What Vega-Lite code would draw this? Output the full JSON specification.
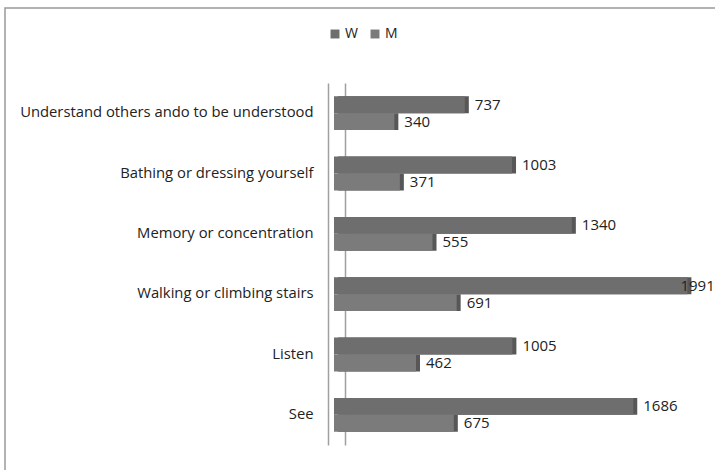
{
  "$schema": "https://vega.github.io/schema/vega-lite/v6.json",
  "width": 711,
  "height": 463,
  "autosize": {"type": "none"},
  "padding": {"left": 5, "top": 8, "right": 0, "bottom": 0},
  "background": "white",
  "config": {
    "view": {"stroke": "#999999", "strokeWidth": 1.5},
    "font": "Open Sans"
  },
  "data": {
    "values": [
      {"cat": "Understand others ando to be understood", "series": "W", "value": 737},
      {"cat": "Understand others ando to be understood", "series": "M", "value": 340},
      {"cat": "Bathing or dressing yourself", "series": "W", "value": 1003},
      {"cat": "Bathing or dressing yourself", "series": "M", "value": 371},
      {"cat": "Memory or concentration", "series": "W", "value": 1340},
      {"cat": "Memory or concentration", "series": "M", "value": 555},
      {"cat": "Walking or climbing stairs", "series": "W", "value": 1991},
      {"cat": "Walking or climbing stairs", "series": "M", "value": 691},
      {"cat": "Listen", "series": "W", "value": 1005},
      {"cat": "Listen", "series": "M", "value": 462},
      {"cat": "See", "series": "W", "value": 1686},
      {"cat": "See", "series": "M", "value": 675}
    ]
  },
  "encoding": {
    "y": {
      "field": "cat",
      "type": "nominal",
      "sort": null,
      "axis": null,
      "scale": {"range": [75, 437], "paddingInner": 0.44, "paddingOuter": 0.22}
    },
    "yOffset": {
      "field": "series",
      "type": "nominal",
      "sort": ["W", "M"],
      "scale": {"paddingInner": 0, "paddingOuter": 0}
    },
    "x": {
      "field": "value",
      "type": "quantitative",
      "scale": {"domain": [0, 2000], "range": [329, 684], "nice": false, "zero": true},
      "axis": null
    }
  },
  "layer": [
    {
      "mark": {"type": "bar", "color": "#575757", "xOffset": 4, "x2Offset": 4, "yOffset": -4, "y2Offset": -4},
      "encoding": {
        "y": {
          "field": "cat",
          "type": "nominal",
          "sort": null,
          "axis": {
            "orient": "left",
            "offset": -323,
            "title": null,
            "ticks": false,
            "labelPadding": 15,
            "labelFontSize": 14.8,
            "labelColor": "#222222",
            "labelLimit": 400,
            "labelFont": "Open Sans",
            "domainColor": "#a0a0a0",
            "domainWidth": 1.5
          }
        }
      }
    },
    {
      "mark": {"type": "bar"},
      "encoding": {
        "y": {
          "field": "cat",
          "type": "nominal",
          "sort": null,
          "axis": {
            "orient": "right",
            "offset": -371,
            "title": null,
            "ticks": false,
            "labels": false,
            "domainColor": "#a0a0a0",
            "domainWidth": 1.5
          }
        },
        "color": {
          "field": "series",
          "type": "nominal",
          "sort": ["W", "M"],
          "scale": {"domain": ["W", "M"], "range": ["#6e6e6e", "#7b7b7b"]},
          "legend": {
            "orient": "none",
            "legendX": 323,
            "legendY": 19,
            "direction": "horizontal",
            "title": null,
            "symbolType": "square",
            "symbolSize": 80,
            "symbolStrokeWidth": 0,
            "labelFontSize": 14,
            "labelColor": "#222222",
            "labelFont": "Open Sans",
            "labelOffset": 3,
            "columnPadding": 10
          }
        }
      }
    },
    {
      "transform": [{"filter": "datum.value < 1900"}],
      "mark": {"type": "text", "align": "left", "baseline": "middle", "dx": 10, "fontSize": 15, "color": "#222222"},
      "encoding": {"text": {"field": "value", "type": "quantitative"}}
    },
    {
      "transform": [{"filter": "datum.value >= 1900"}],
      "mark": {"type": "text", "align": "left", "baseline": "middle", "dx": -7, "fontSize": 15, "color": "#222222"},
      "encoding": {"text": {"field": "value", "type": "quantitative"}}
    }
  ],
  "resolve": {"axis": {"y": "independent"}}
}
